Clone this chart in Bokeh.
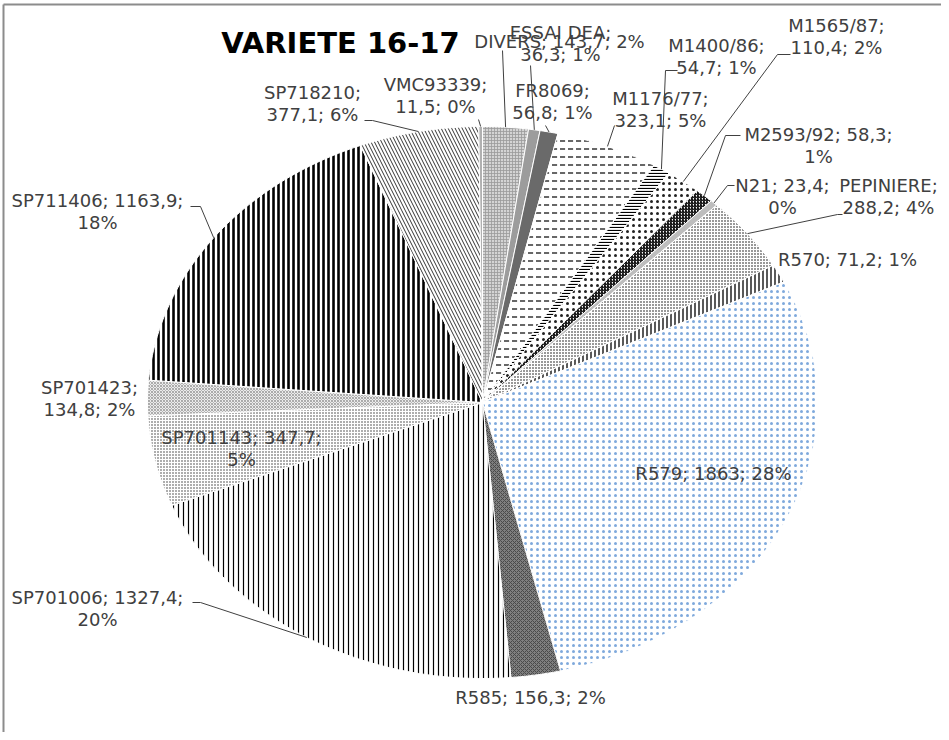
import numpy as np
from bokeh.plotting import figure
from bokeh.models import Range1d, ColumnDataSource
from bokeh.embed import file_html
from bokeh.resources import INLINE
from bokeh.core.properties import value

# ---------------- data ----------------
categories = ["DIVERS", "ESSAI DEA", "FR8069", "M1176/77", "M1400/86", "M1565/87",
              "M2593/92", "N21", "PEPINIERE", "R570", "R579", "R585",
              "SP701006", "SP701143", "SP701423", "SP711406", "SP718210", "VMC93339"]
values = [143.7, 36.3, 56.8, 323.1, 54.7, 110.4,
          58.3, 23.4, 288.2, 71.2, 1863, 156.3,
          1327.4, 347.7, 134.8, 1163.9, 377.1, 11.5]
title_text = "VARIETE 16-17"

# ---------------- styles ----------------
fill_colors = ["#d4d4d4", "#9c9c9c", "#6a6a6a", "white", "white", "white",
               "white", "#bdbdbd", "white", "white", "white", "#7f7f7f",
               "white", "white", "#ececec", "white", "white", "#b0b0b0"]
hatch_patterns = ["cross", " ", " ", "horizontal_dash", "horizontal_line", "dot",
                  "right_diagonal_line", " ", "dot", "vertical_line", "dot", "diagonal_cross",
                  "vertical_line", "dot", "diagonal_cross", "vertical_line", "left_diagonal_line", " "]
hatch_colors = ["#9a9a9a", "black", "black", "black", "black", "#222222",
                "black", "black", "black", "black", "#7fa9dc", "#4a4a4a",
                "black", "#333333", "#9a9a9a", "black", "#333333", "black"]
hatch_scales = [3, 4, 4, 8, 3, 6, 3, 4, 3, 4, 6, 4, 5, 3, 3, 5, 7, 4]
hatch_weights = [0.8, 1, 1, 1.2, 1.2, 0.9, 1.2, 1, 2.8, 1.3, 0.8, 1, 1.2, 1.0, 0.8, 2.6, 1.0, 1]

# label layout (figure pixel coordinates), parts on first line
label_split = [3, 1, 1, 1, 1, 1, 2, 2, 1, 3, 3, 3, 2, 2, 1, 2, 1, 1]
label_pos = [(559, 41), (560, 32), (552, 90), (660, 98), (716, 45), (836, 25),
             (818, 134), (782, 185), (888, 185), (847, 259), (713, 473), (530, 697),
             (97, 597), (241, 437), (89, 387), (97, 200), (312, 92), (435, 84)]
leader_elbows = {0: [(502, 50)], 1: [(530, 65)], 2: [(545, 125)], 3: [(614, 125)],
                 4: [(677, 70), (665, 70)], 5: [(790, 54), (777, 54)],
                 6: [(740, 135), (725, 135)], 7: [(734, 185), (727, 185)],
                 8: [(842, 214), (837, 214)], 12: [(192, 602), (200, 602)],
                 15: [(190, 206), (200, 206)], 16: [(364, 120), (372, 120)],
                 17: [(478, 119)]}

W, H = 941, 732
cx, cy, rx, ry = 482, 402, 335, 276
LINE_H = 22

# ---------------- geometry ----------------
vals = np.array(values, dtype=float)
total = vals.sum()
frac = vals / total
ends = np.cumsum(frac) * 2 * np.pi
starts = ends - frac * 2 * np.pi

def ell(theta):
    return cx + rx * np.sin(theta), cy - ry * np.cos(theta)

xs, ys = [], []
for a0, a1 in zip(starts, ends):
    n = max(3, int(np.degrees(a1 - a0)) * 2)
    t = np.linspace(a0, a1, n)
    ex, ey = ell(t)
    xs.append([cx] + list(ex))
    ys.append([cy] + list(ey))

src = ColumnDataSource(dict(xs=xs, ys=ys, fill=fill_colors, hp=hatch_patterns,
                            hc=hatch_colors, hs=hatch_scales, hw=hatch_weights))

p = figure(width=W, height=H, output_backend="svg", toolbar_location=None,
           x_range=Range1d(0, W), y_range=Range1d(H, 0), min_border=0)
p.axis.visible = False
p.grid.visible = False
p.outline_line_color = None
p.background_fill_color = "white"
p.border_fill_color = "white"

p.patches("xs", "ys", source=src, fill_color="fill", line_color="white", line_width=1,
          hatch_pattern="hp", hatch_color="hc", hatch_scale="hs", hatch_weight="hw")

# frame border (left and top visible)
p.segment(x0=[3, 3], y0=[4, 4], x1=[3, W], y1=[H, 4], line_color="#8c8c8c", line_width=2)

# leader lines
mids = (starts + ends) / 2
lx, ly = [], []
for i, pts in leader_elbows.items():
    ex, ey = ell(mids[i])
    lx.append([q[0] for q in pts] + [ex])
    ly.append([q[1] for q in pts] + [ey])
p.multi_line(lx, ly, line_color="#404040", line_width=1)

# labels
def fmt(v):
    s = f"{v:g}"
    return s.replace(".", ",")

tx, ty, tt = [], [], []
for i, name in enumerate(categories):
    parts = [f"{name};", f"{fmt(values[i])};", f"{round(frac[i] * 100):d}%"]
    k = label_split[i]
    lines = [" ".join(parts[:k])]
    if k < 3:
        lines.append(" ".join(parts[k:]))
    x0, y0 = label_pos[i]
    for j, ln in enumerate(lines):
        tx.append(x0)
        ty.append(y0 + j * LINE_H)
        tt.append(ln)
p.text(x=tx, y=ty, text=tt, text_align="center", text_baseline="middle",
       text_font=value("DejaVu Sans"), text_font_size="18px", text_color="#404040")

# title
p.text(x=[340], y=[42], text=[title_text], text_align="center", text_baseline="middle",
       text_font=value("DejaVu Sans"), text_font_size="29px", text_font_style="bold",
       text_color="black")

open("out.html", "w").write(file_html(p, INLINE))
